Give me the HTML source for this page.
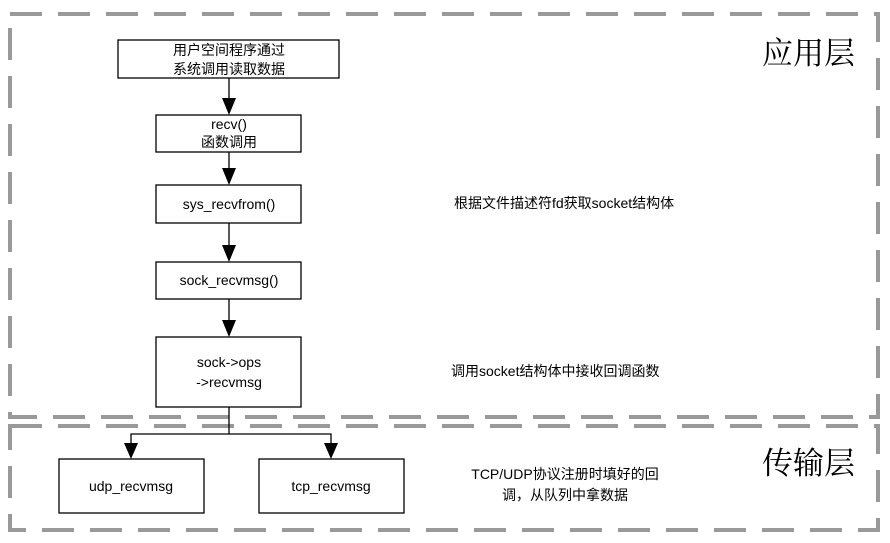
<!DOCTYPE html>
<html><head><meta charset="utf-8">
<style>
html,body{margin:0;padding:0;background:#fff;}
svg{display:block;}
text{font-family:"Liberation Sans","Noto Sans CJK SC",sans-serif;fill:#000;}
</style></head>
<body>
<svg width="890" height="543" viewBox="0 0 890 543" xmlns="http://www.w3.org/2000/svg">
<g fill="none" stroke="#999" stroke-width="4" stroke-dasharray="32 16" stroke-linecap="butt">
  <rect x="10" y="14" width="868" height="403"/>
  <rect x="10" y="426" width="868" height="104"/>
</g>
<g fill="#fff" stroke="#000" stroke-width="1.3">
  <rect x="118" y="40" width="221" height="38"/>
  <rect x="156" y="115" width="145" height="37"/>
  <rect x="156" y="185" width="145" height="38"/>
  <rect x="156" y="262" width="145" height="37"/>
  <rect x="156" y="337" width="145" height="70"/>
  <rect x="59" y="459" width="145" height="54"/>
  <rect x="259" y="459" width="145" height="54"/>
</g>
<g stroke="#000" stroke-width="1.3" fill="none">
  <line x1="229" y1="78" x2="229" y2="100"/>
  <line x1="229" y1="152" x2="229" y2="170"/>
  <line x1="229" y1="223" x2="229" y2="246"/>
  <line x1="229" y1="299" x2="229" y2="321"/>
  <polyline points="229,407 229,434"/>
  <polyline points="131,446 131,434 331,434 331,446"/>
</g>
<g fill="#000">
  <polygon points="222,98 236,98 229,115"/>
  <polygon points="222,168 236,168 229,185"/>
  <polygon points="222,245 236,245 229,262"/>
  <polygon points="222,320 236,320 229,337"/>
  <polygon points="124,443 138,443 131,459"/>
  <polygon points="324,443 338,443 331,459"/>
</g>
<g font-size="14" text-anchor="middle">
  <text x="229" y="55">用户空间程序通过</text>
  <text x="229" y="74">系统调用读取数据</text>
  <text x="229" y="129">recv()</text>
  <text x="229" y="147">函数调用</text>
  <text x="229" y="209">sys_recvfrom()</text>
  <text x="229" y="285">sock_recvmsg()</text>
  <text x="229" y="367">sock-&gt;ops</text>
  <text x="229" y="387">-&gt;recvmsg</text>
  <text x="131" y="491">udp_recvmsg</text>
  <text x="331" y="491">tcp_recvmsg</text>
  <text x="565" y="479">TCP/UDP协议注册时填好的回</text>
  <text x="565" y="500">调，从队列中拿数据</text>
</g>
<g font-size="14">
  <text x="454" y="208">根据文件描述符fd获取socket结构体</text>
  <text x="451" y="376">调用socket结构体中接收回调函数</text>
</g>
<g font-size="31">
  <text x="762" y="64" style="font-family:'Noto Serif CJK SC',serif">应用层</text>
  <text x="762" y="474" style="font-family:'Noto Serif CJK SC',serif">传输层</text>
</g>
</svg>
</body></html>
